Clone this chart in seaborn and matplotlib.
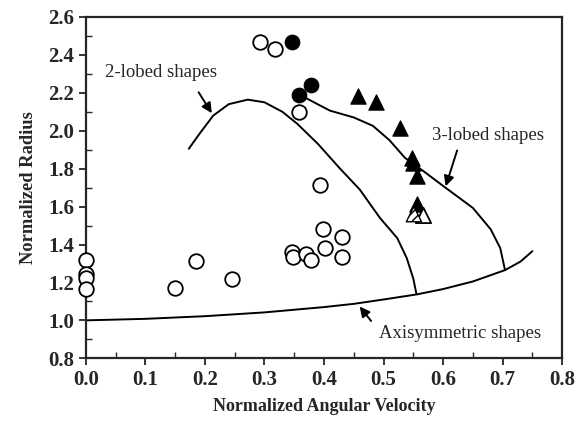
import matplotlib
matplotlib.use("Agg")
import matplotlib.pyplot as plt
import seaborn as sns

# open circles
open_x = [0.0, 0.0, 0.0, 0.0, 0.150, 0.185, 0.245, 0.292, 0.318, 0.358,
          0.393, 0.346, 0.348, 0.370, 0.378, 0.398, 0.402, 0.430, 0.430]
open_y = [1.317, 1.243, 1.222, 1.164, 1.169, 1.312, 1.217, 2.466, 2.43, 2.10,
          1.714, 1.36, 1.333, 1.35, 1.317, 1.48, 1.38, 1.44, 1.335]

# filled circles
fill_x = [0.347, 0.378, 0.358]
fill_y = [2.466, 2.24, 2.19]

# filled triangles
tri_x = [0.457, 0.487, 0.528, 0.548, 0.550, 0.557, 0.556]
tri_y = [2.185, 2.15, 2.016, 1.857, 1.83, 1.76, 1.615]

# hatched and open triangles
hatch_x = [0.551]
hatch_y = [1.56]
open_tri_x = [0.566]
open_tri_y = [1.555]

# curves
lobe2_x = [0.173, 0.19, 0.214, 0.24, 0.272, 0.30, 0.33, 0.355, 0.39, 0.427,
           0.46, 0.494, 0.523, 0.539, 0.55, 0.555]
lobe2_y = [1.905, 1.98, 2.08, 2.14, 2.164, 2.15, 2.10, 2.037, 1.93, 1.80,
           1.69, 1.54, 1.434, 1.328, 1.22, 1.143]

lobe3_x = [0.371, 0.41, 0.45, 0.482, 0.51, 0.536, 0.57, 0.6, 0.65, 0.68,
           0.696, 0.704]
lobe3_y = [2.17, 2.106, 2.07, 2.026, 1.95, 1.857, 1.78, 1.709, 1.593, 1.48,
           1.381, 1.265]

axi_x = [0.0, 0.1, 0.2, 0.3, 0.4, 0.45, 0.5, 0.556, 0.6, 0.65, 0.704,
         0.73, 0.75]
axi_y = [1.0, 1.008, 1.022, 1.042, 1.07, 1.087, 1.11, 1.137, 1.165, 1.205,
         1.265, 1.31, 1.365]

sns.set_style("ticks")
plt.rcParams["font.family"] = ["Liberation Serif", "DejaVu Serif"]

fig = plt.figure(figsize=(5.76, 4.24), dpi=100)
ax = fig.add_axes([0.149, 0.155, 0.827, 0.805])

# curves
for cx, cy in [(lobe2_x, lobe2_y), (lobe3_x, lobe3_y), (axi_x, axi_y)]:
    sns.lineplot(x=cx, y=cy, ax=ax, color="black", lw=1.4, sort=False,
                 estimator=None)

# markers
sns.scatterplot(x=open_x, y=open_y, ax=ax, marker="o", s=110,
                facecolor="white", edgecolor="black", linewidth=1.3,
                zorder=3, clip_on=False)
sns.scatterplot(x=fill_x, y=fill_y, ax=ax, marker="o", s=110,
                color="black", edgecolor="black", zorder=3)
sns.scatterplot(x=tri_x, y=tri_y, ax=ax, marker="^", s=120,
                color="black", edgecolor="black", zorder=3)
sns.scatterplot(x=open_tri_x, y=open_tri_y, ax=ax, marker="^", s=120,
                facecolor="white", edgecolor="black", linewidth=1.3, zorder=3)
ax.scatter(hatch_x, hatch_y, marker="^", s=120, facecolor="white",
           edgecolor="black", hatch="////", linewidth=1.0, zorder=4)

# annotations
arrow = dict(arrowstyle="-|>", color="black", lw=1.4, mutation_scale=15)
ax.text(0.126, 2.307, "2-lobed shapes", fontsize=13.5, ha="center",
        va="center")
ax.annotate("", xy=(0.214, 2.08), xytext=(0.187, 2.215), arrowprops=arrow)
ax.text(0.676, 1.974, "3-lobed shapes", fontsize=13.5, ha="center",
        va="center")
ax.annotate("", xy=(0.603, 1.693), xytext=(0.625, 1.91), arrowprops=arrow)
ax.text(0.629, 0.93, "Axisymmetric shapes", fontsize=13.5, ha="center",
        va="center")
ax.annotate("", xy=(0.457, 1.085), xytext=(0.482, 0.985), arrowprops=arrow)

ax.set_xlim(0, 0.8)
ax.set_ylim(0.8, 2.6)
ax.set_xticks([0.0, 0.1, 0.2, 0.3, 0.4, 0.5, 0.6, 0.7, 0.8])
ax.set_yticks([0.8, 1.0, 1.2, 1.4, 1.6, 1.8, 2.0, 2.2, 2.4, 2.6])
ax.set_xticks([0.05 + 0.1 * i for i in range(8)], minor=True)
ax.set_yticks([0.9 + 0.2 * i for i in range(9)], minor=True)
ax.set_xticklabels([f"{v:.1f}" for v in ax.get_xticks()])
ax.set_yticklabels([f"{v:.1f}" for v in ax.get_yticks()])
ax.tick_params(which="major", direction="out", length=5, width=1.3,
               labelsize=15)
ax.tick_params(which="minor", direction="in", length=4, width=1.0)
for lab in ax.get_xticklabels() + ax.get_yticklabels():
    lab.set_fontweight("bold")
for sp in ax.spines.values():
    sp.set_visible(True)
    sp.set_linewidth(1.6)

ax.set_xlabel("Normalized Angular Velocity", fontsize=13, fontweight="bold",
              labelpad=6)
ax.set_ylabel("Normalized Radius", fontsize=13.3, fontweight="bold",
              labelpad=8)

fig.savefig("out.png", dpi=100)
